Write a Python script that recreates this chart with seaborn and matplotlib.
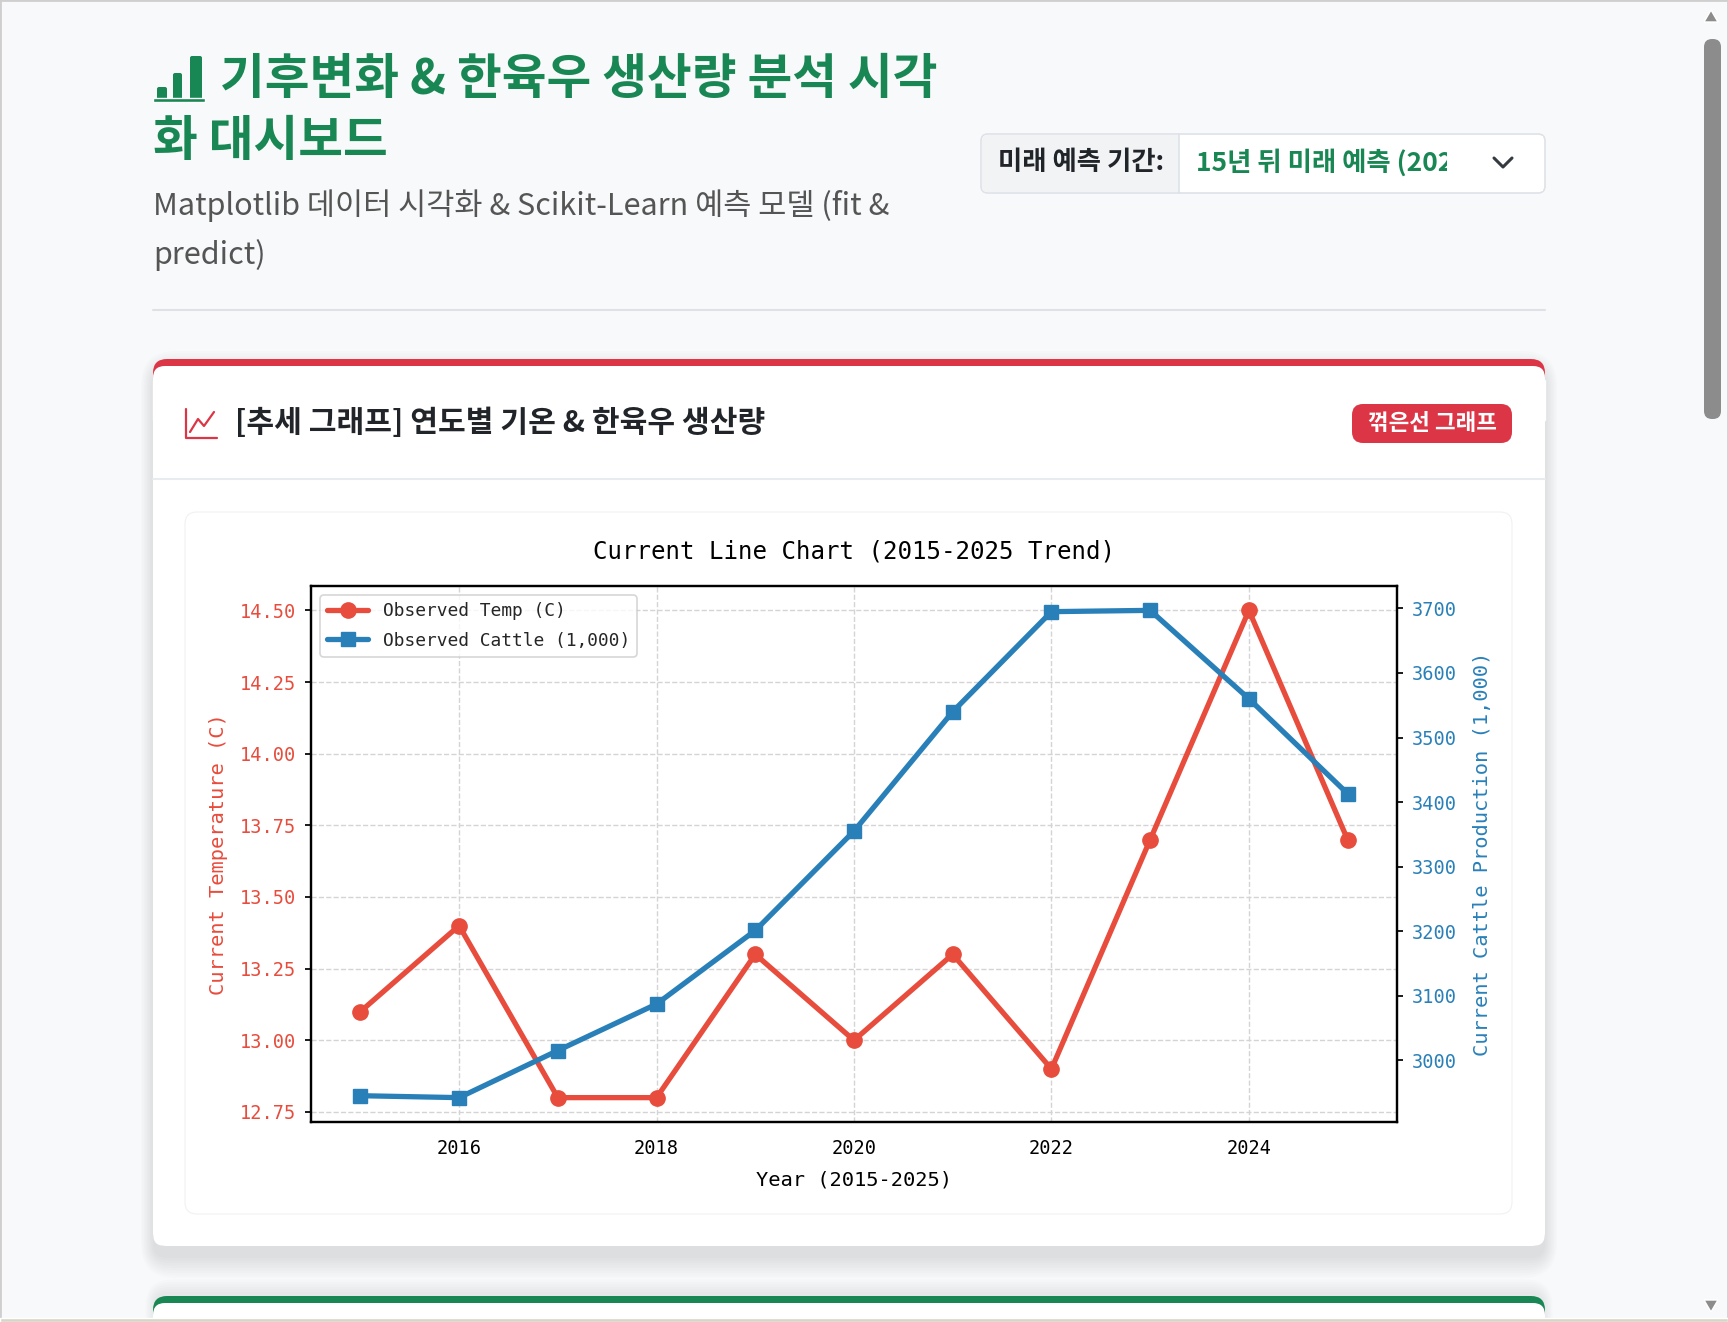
import matplotlib
matplotlib.use("Agg")
import matplotlib.pyplot as plt
from matplotlib.patches import FancyBboxPatch, Rectangle, Polygon
import seaborn as sns
import pandas as pd

years = [2015, 2016, 2017, 2018, 2019, 2020, 2021, 2022, 2023, 2024, 2025]
temp_obs = [13.1, 13.4, 12.8, 12.8, 13.3, 13.0, 13.3, 12.9, 13.7, 14.5, 13.7]
cattle_obs = [2945, 2942, 3015, 3087, 3201, 3355, 3540, 3695, 3697, 3560, 3413]

temp_ticks = [12.75, 13.00, 13.25, 13.50, 13.75, 14.00, 14.25, 14.50]
cattle_ticks = [3000, 3100, 3200, 3300, 3400, 3500, 3600, 3700]
year_ticks = [2016, 2018, 2020, 2022, 2024]

# page texts
title_1 = "기후변화 & 한육우 생산량 분석 시각"
title_2 = "화 대시보드"
sub_1 = "Matplotlib 데이터 시각화 & Scikit-Learn 예측 모델 (fit &"
sub_2 = "predict)"
select_label = "미래 예측 기간:"
select_value = "15년 뒤 미래 예측 (2026"   # the rest is cut off by the select
card_title = "[추세 그래프] 연도별 기온 & 한육우 생산량"
badge = "꺾은선 그래프"
chart_title = "Current Line Chart (2015-2025 Trend)"

RED = "#e74c3c"
BLUE = "#2980b9"
GREEN = "#198754"
BADGE_RED = "#dc3545"
DARK = "#212529"
MONO = "DejaVu Sans Mono"

sns.set_theme(style="white")
plt.rcParams["font.family"] = ["Noto Sans CJK KR", "DejaVu Sans"]

W, H = 1728, 1322
fig = plt.figure(figsize=(W / 100, H / 100), dpi=100)
fig.patch.set_facecolor("#f8f9fa")

# background layer in pixel coords
bg = fig.add_axes([0, 0, 1, 1], zorder=0)
bg.set_xlim(0, W)
bg.set_ylim(H, 0)
bg.axis("off")


def rbox(x, y, w, h, r, fc, ec="none", lw=0, z=1, alpha=1):
    p = FancyBboxPatch((x, y), w, h, boxstyle=f"round,pad=0,rounding_size={r}",
                       fc=fc, ec=ec, lw=lw, zorder=z, alpha=alpha)
    bg.add_patch(p)
    return p


def shadow(x, y, w, h, r, dy=6, layers=8, a=0.018, step=2.5):
    for i in range(layers):
        g = i * step
        rbox(x - g * 0.6, y - g + dy, w + 1.2 * g, h + 2 * g, r + g, "black", z=0.5, alpha=a)


# window frame + scrollbar
bg.add_patch(Rectangle((0, 0), W, H, fc="none", ec="#cfcfcf", lw=2, zorder=10))
bg.add_patch(Rectangle((0, H - 4), W, 4, fc="#d8d4c8", zorder=10))
rbox(1704, 39, 17, 380, 8, "#8c8c8c", z=5)
bg.add_patch(Polygon([[1704, 22], [1718, 22], [1711, 10]], closed=True, fc="#8c8c8c", zorder=5))
bg.add_patch(Polygon([[1704, 1300], [1718, 1300], [1711, 1312]], closed=True, fc="#8c8c8c", zorder=5))

# header icon (bar chart)
for bx, btop, bw in [(157, 87, 10), (173, 73, 9), (190, 56, 12)]:
    rbox(bx, btop, bw, 100 - btop, 2, GREEN, z=3)
bg.add_patch(Rectangle((153, 98), 52, 4, fc=GREEN, zorder=3))

bg.text(220, 80, title_1, fontsize=35, fontweight="bold", color=GREEN, va="center", ha="left")
bg.text(153, 141, title_2, fontsize=35, fontweight="bold", color=GREEN, va="center", ha="left")
bg.text(153, 206, sub_1, fontsize=22, color="#555555", va="center", ha="left")
bg.text(153, 255, sub_2, fontsize=22, color="#555555", va="center", ha="left")
bg.plot([153, 1545], [310, 310], color="#dee2e6", lw=1.5, zorder=2)

# select box
rbox(981, 134, 564, 59, 7, "white", ec="#dee2e6", lw=1.2, z=2)
rbox(982, 135, 40, 57, 6, "#f1f3f5", z=2.5)
bg.add_patch(Rectangle((1000, 135), 179, 57, fc="#f1f3f5", ec="none", zorder=2.5))
bg.plot([1179, 1179], [134, 193], color="#dee2e6", lw=1.2, zorder=3)
bg.text(998, 163, select_label, fontsize=19, fontweight="bold", color=DARK, va="center", ha="left", zorder=4)
bg.text(1196, 163, select_value, fontsize=19, fontweight="bold", color=GREEN, va="center", ha="left", zorder=4)
bg.add_patch(Rectangle((1447, 136), 96, 55, fc="white", ec="none", zorder=4.5))
bg.plot([1494, 1503, 1512], [158, 167, 158], color="#343a40", lw=2.2, zorder=5, solid_capstyle="round")

# main card
shadow(153, 359, 1392, 887, 14, dy=12, layers=9, a=0.010, step=2.5)
rbox(153, 359, 1392, 887, 14, BADGE_RED, z=1)
rbox(153, 366, 1392, 880, 12, "white", z=1.2)
bg.add_patch(Rectangle((153, 380), 1392, 40, fc="white", zorder=1.3))

# card header icon (line chart)
bg.plot([186, 186, 217], [409, 438, 438], color=BADGE_RED, lw=1.6, zorder=4)
bg.plot([190, 198, 204, 214], [432, 419, 426, 412], color=BADGE_RED, lw=1.6, zorder=4)
bg.text(235, 423, card_title, fontsize=21.7, fontweight="bold", color=DARK, va="center", ha="left", zorder=4)
rbox(1352, 404, 160, 39, 11, BADGE_RED, z=4)
bg.text(1432, 423, badge, fontsize=16.2, fontweight="bold", color="white", va="center", ha="center", zorder=5)
bg.plot([153, 1545], [479, 479], color="#e9ecef", lw=1.5, zorder=4)

# inner chart panel
shadow(185, 512, 1327, 702, 12, dy=3, layers=5, a=0.010)
rbox(185, 512, 1327, 702, 12, "white", ec="#f1f1f1", lw=0.8, z=2)

# next card peeking in
shadow(153, 1296, 1392, 60, 14, dy=-4, layers=6, a=0.010)
rbox(153, 1296, 1392, 60, 14, GREEN, z=1)
rbox(153, 1303, 1392, 60, 12, "white", z=1.2)

# chart
df = pd.DataFrame({"year": years, "temp": temp_obs, "cattle": cattle_obs})

ax1 = fig.add_axes([311 / W, 1 - 1122 / H, (1397 - 311) / W, (1122 - 586) / H], zorder=3)
ax1.set_facecolor("white")
sns.lineplot(data=df, x="year", y="temp", ax=ax1, color=RED, marker="o", markersize=11,
             linewidth=3.8, markeredgecolor=RED, markeredgewidth=1, label="Observed Temp (C)")
ax2 = ax1.twinx()
sns.lineplot(data=df, x="year", y="cattle", ax=ax2, color=BLUE, marker="s", markersize=10.5,
             linewidth=3.8, markeredgecolor=BLUE, markeredgewidth=1, label="Observed Cattle (1,000)")

ax1.set_xticks(year_ticks)
ax1.set_yticks(temp_ticks)
ax1.set_yticklabels([f"{v:.2f}" for v in temp_ticks])
ax2.set_yticks(cattle_ticks)

ax1.grid(True, linestyle="--", color="#d4d4d4", linewidth=1)
ax1.tick_params(axis="x", labelsize=13.4, colors="black", length=4, pad=8, direction="out")
ax1.tick_params(axis="y", labelsize=13.4, labelcolor=RED, color="black", length=4, pad=7, direction="out")
ax2.tick_params(axis="y", labelsize=13.4, labelcolor=BLUE, color="black", length=4, pad=7, direction="out")
for lab in ax1.get_xticklabels() + ax1.get_yticklabels() + ax2.get_yticklabels():
    lab.set_fontfamily(MONO)

for ax in (ax1, ax2):
    for s in ax.spines.values():
        s.set_color("black")
        s.set_linewidth(1.6)

ax1.set_title(chart_title, fontsize=17.4, fontfamily=MONO, color="black", pad=20)
ax1.set_xlabel("Year (2015-2025)", fontsize=14.7, fontfamily=MONO, color="black", labelpad=9)
ax1.set_ylabel("Current Temperature (C)", fontsize=14.7, fontfamily=MONO, color=RED, labelpad=8)
ax2.set_ylabel("Current Cattle Production (1,000)", fontsize=14.7, fontfamily=MONO, color=BLUE, labelpad=11)

ax1.get_legend().remove()
h1, l1 = ax1.get_legend_handles_labels()
h2, l2 = ax2.get_legend_handles_labels()
ax2.get_legend().remove()
leg = ax2.legend(h1 + h2, l1 + l2, loc="upper left", prop={"family": MONO, "size": 12.9},
                 frameon=True, edgecolor="#cccccc", fancybox=True, borderaxespad=0.5,
                 handlelength=2.3, labelspacing=0.65)
leg.get_frame().set_linewidth(1.2)

fig.savefig("out.png", dpi=100, facecolor=fig.get_facecolor())
